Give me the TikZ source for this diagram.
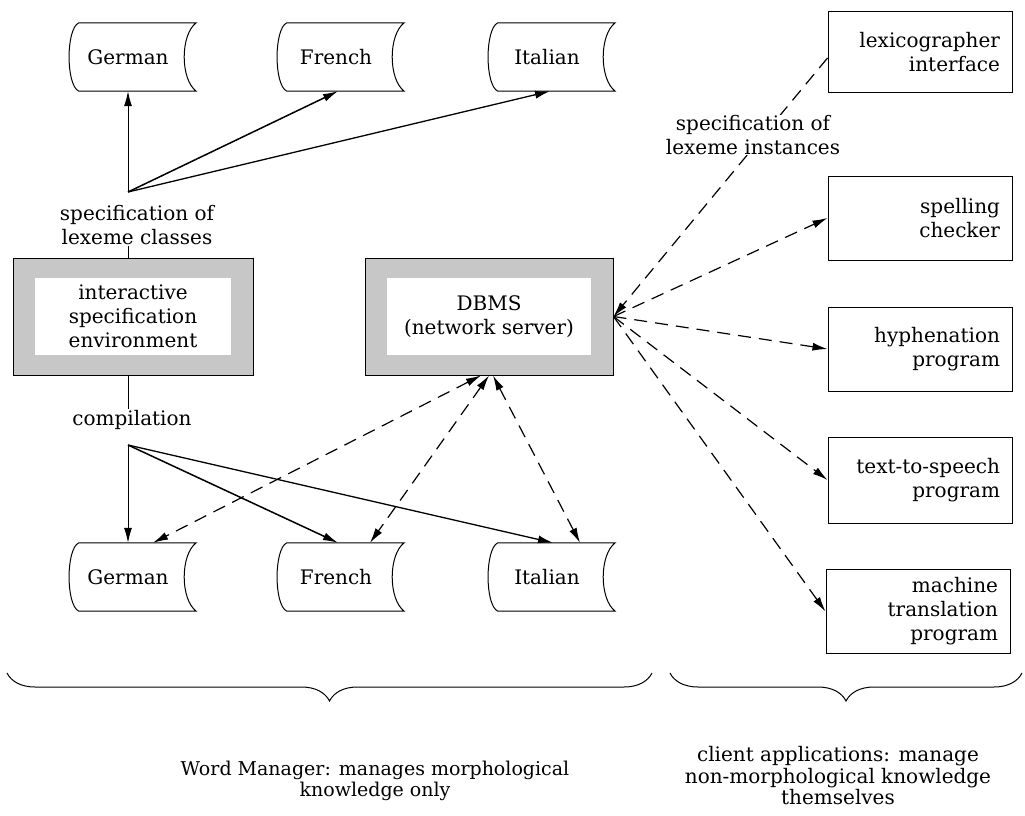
\documentclass[tikz,border=0pt]{standalone}
\usepackage{fontspec}
\setmainfont{DejaVu Serif}
\usetikzlibrary{arrows.meta,calc,decorations.pathreplacing}
\begin{document}
\begin{tikzpicture}[x=1pt,y=-1pt,
  every node/.style={font=\fontsize{20}{24}\selectfont},
  db/.style={minimum width=118pt,minimum height=68pt,inner sep=0pt},
  shbox/.style={draw,line width=1pt,fill=black!22,inner sep=0pt,align=center,
    path picture={\fill[white] ($(path picture bounding box.north west)+(22,20)$) rectangle ($(path picture bounding box.south east)+(-22,-20)$);}},
  client/.style={draw,line width=1pt,align=right,inner sep=0pt,text width=160pt,minimum width=184pt},
  solidarr/.style={line width=1.2pt,-{Latex[length=15pt,width=8pt]}},
  dasharr/.style={line width=1.2pt,dash pattern=on 13pt off 8pt},
  lbl/.style={align=center,inner sep=1pt},
  bot/.style={align=center,inner sep=1pt,font=\fontsize{19}{21.5}\selectfont},
  bracestyle/.style={line width=1pt,decorate,decoration={brace,mirror,amplitude=28pt}},
]
\useasboundingbox (0,0) rectangle (1025,816);

% storage cylinders
\node[db] (gt) at (128,57) {German};
\node[db] (ft) at (336,57) {French};
\node[db] (it) at (547,57) {Italian};
\node[db] (gb) at (128,577) {German};
\node[db] (fb) at (336,577) {French};
\node[db] (ib) at (547,577) {Italian};
\foreach \n in {gt,ft,it,gb,fb,ib}{
  \draw[line width=1pt] ($(\n.north west)+(10,0)$) -- ($(\n.north east)+(9,0)$)
    .. controls ($(\n.north east)+(-7,12)$) and ($(\n.south east)+(-7,-12)$) .. ($(\n.south east)+(9,0)$)
    -- ($(\n.south west)+(10,0)$)
    .. controls ($(\n.south west)+(-3,-6)$) and ($(\n.north west)+(-3,6)$) .. cycle;
}

% shaded boxes
\node[shbox,minimum width=240pt,minimum height=117pt] (isp) at (133,316.5) {interactive\\specification\\environment};
\node[shbox,minimum width=248pt,minimum height=117pt] (dbms) at (489,316.5) {DBMS\\(network server)};

% client boxes
\node[client,minimum height=80pt] (lex) at (920,52) {lexicographer\\interface};
\node[client,minimum height=84pt] (spl) at (920,218) {spelling\\checker};
\node[client,minimum height=84pt] (hyp) at (920,349) {hyphenation\\program};
\node[client,minimum height=86pt] (tts) at (920,480) {text-to-speech\\program};
\node[client,minimum height=84pt] (mt) at (918,611.5) {machine\\translation\\program};

% specification of lexeme classes
\coordinate (src1) at (128,192);
\coordinate (src2) at (128,445);
\draw[solidarr,line width=1pt] (src1) -- (gt.south);
\draw[solidarr,line width=1.5pt] (src1) -- ($(ft.south)+(2,0)$);
\draw[solidarr,line width=1.3pt] (src1) -- ($(it.south)+(3,0)$);
\node[lbl] (lab1) at (137,225) {specification of\\lexeme classes};
\draw[line width=1pt] (lab1.south -| src1) -- (isp.north -| src1);

% compilation
\node[lbl] (lab2) at (132,420) {compilation};
\draw[line width=1pt] (isp.south -| src2) -- (lab2.north -| src2);
\draw[solidarr,line width=1pt] (src2) -- (gb.north);
\draw[solidarr,line width=1.5pt] (src2) -- ($(fb.north)+(2,0)$);
\draw[solidarr,line width=1.3pt] (src2) -- ($(ib.north)+(6,0)$);

% DBMS to compiled lexicons
\draw[dasharr,{Latex[length=15pt,width=8pt]}-{Latex[length=15pt,width=8pt]}] ($(dbms.south)+(-8,0)$) -- ($(gb.north)+(25,0)$);
\draw[dasharr,{Latex[length=15pt,width=8pt]}-{Latex[length=15pt,width=8pt]}] (dbms.south) -- ($(fb.north)+(34,0)$);
\draw[dasharr,{Latex[length=15pt,width=8pt]}-{Latex[length=15pt,width=8pt]}] ($(dbms.south)+(4,0)$) -- ($(ib.north)+(33,0)$);

% DBMS to clients
\draw[dasharr,-{Latex[length=15pt,width=8pt]}] ($(lex.west)+(0,6)$) -- (dbms.east);
\node[lbl,fill=white,inner sep=0pt] (lab3) at (753,135) {specification of\\lexeme instances};
\draw[dasharr,-{Latex[length=15pt,width=8pt]}] (dbms.east) -- (spl.west);
\draw[dasharr,-{Latex[length=15pt,width=8pt]}] (dbms.east) -- (hyp.west);
\draw[dasharr,-{Latex[length=15pt,width=8pt]}] (dbms.east) -- (tts.west);
\draw[dasharr,-{Latex[length=15pt,width=8pt]}] (dbms.east) -- (mt.west);

% braces
\coordinate (b1l) at (7,673);
\coordinate (b1r) at (652,673);
\coordinate (b2l) at (670,673);
\coordinate (b2r) at (1022,673);
\draw[bracestyle] (b1l) -- (b1r);
\draw[bracestyle] (b2l) -- (b2r);
\node[bot] (wm) at (375,781) {Word Manager: manages morphological\\knowledge only};
\node[bot,font=\fontsize{20}{21.5}\selectfont] (ca) at (838,776) {client applications: manage\\non-morphological knowledge\\themselves};
\end{tikzpicture}
\end{document}
